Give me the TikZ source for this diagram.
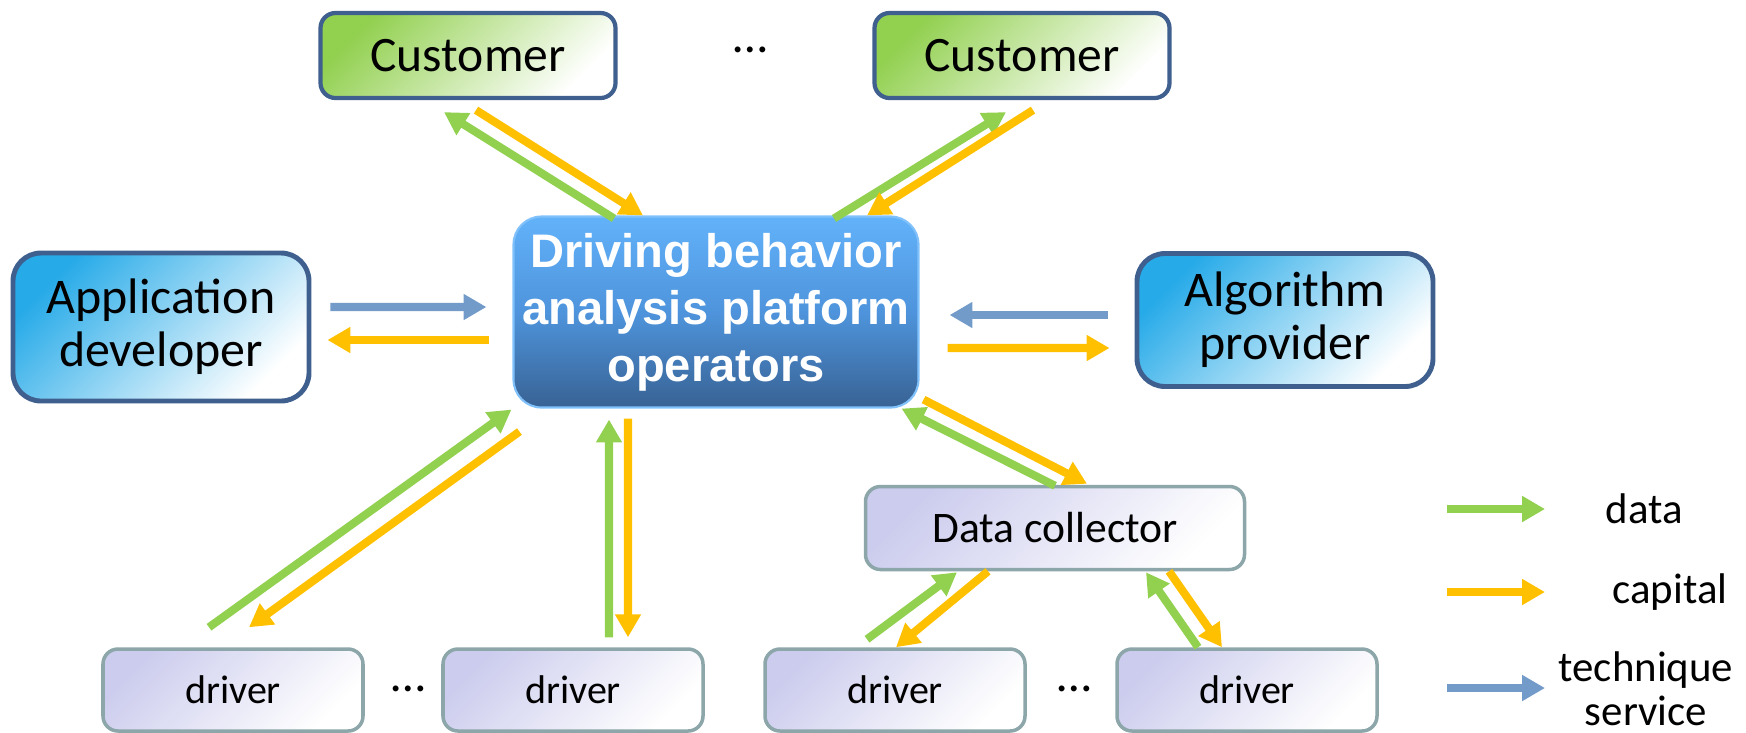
\documentclass[tikz,border=0pt]{standalone}
\usepackage{fontspec}
\setmainfont{Carlito}
\newfontfamily\platfont{Liberation Sans}
\usetikzlibrary{shapes.geometric, arrows.meta}

\definecolor{framebl}{RGB}{63,96,142}
\definecolor{custgreen}{RGB}{146,208,80}
\definecolor{provblue}{RGB}{38,170,232}
\definecolor{plattop}{RGB}{98,178,250}
\definecolor{platmid}{RGB}{78,148,220}
\definecolor{platbot}{RGB}{56,98,148}
\definecolor{drvfill}{RGB}{204,204,238}
\definecolor{drvframe}{RGB}{140,166,170}
\definecolor{datagreen}{RGB}{146,208,80}
\definecolor{caporange}{RGB}{255,192,0}
\definecolor{techblue}{RGB}{114,155,202}

\tikzstyle{customer} = [rectangle, rounded corners=0.15cm,
minimum width=2.95cm,
minimum height=0.85cm,
align=center,
draw=framebl, line width=1.2pt,
top color=custgreen, bottom color=white, shading angle=45,
font=\fontsize{14.1}{16}\selectfont]
\tikzstyle{provider} = [rectangle, rounded corners=0.28cm,
minimum width=2.96cm,
minimum height=1.33cm,
align=center,
draw=framebl, line width=1.4pt,
top color=provblue, bottom color=white, shading angle=45,
font=\fontsize{14.2}{15}\selectfont]
\tikzstyle{platform} = [rectangle, rounded corners=0.28cm,
minimum width=4.05cm,
minimum height=1.91cm,
inner sep=1pt,
align=center,
draw=plattop!80!white, line width=0.6pt,
top color=plattop, bottom color=platbot, middle color=platmid,
text=white,
font=\platfont\bfseries\fontsize{13.4}{16.2}\selectfont]
\tikzstyle{driver} = [rectangle, rounded corners=0.15cm,
minimum width=2.6cm,
minimum height=0.82cm,
align=center,
draw=drvframe, line width=1pt,
top color=drvfill, bottom color=white, shading angle=45,
font=\fontsize{11.4}{13}\selectfont]
\tikzstyle{collector} = [driver,
minimum width=3.79cm,
minimum height=0.83cm,
font=\fontsize{12.4}{15}\selectfont]
\tikzstyle{ellip} = [inner sep=1pt, font=\fontsize{14}{16}\selectfont]
\tikzstyle{legend} = [inner sep=1pt, align=center, font=\fontsize{12.2}{12.6}\selectfont]
\tikzstyle{dataflow} = [line width=2.3pt, draw=datagreen, -{Triangle[length=6.5pt,width=7pt]}]
\tikzstyle{capitalflow} = [line width=2.3pt, draw=caporange, -{Triangle[length=6.5pt,width=7pt]}]
\tikzstyle{techflow} = [line width=2.3pt, draw=techblue, -{Triangle[length=6.5pt,width=7pt]}]

\begin{document}
\begin{tikzpicture}[node distance=2.565cm]
\useasboundingbox (0,0) rectangle (17.46,-7.32);

\node (plat) [platform] at (7.16,-3.12) {Driving behavior\\analysis platform\\operators};
\node (cust1) [customer, above of=plat, xshift=-2.48cm] {Customer};
\node (topdots) [ellip, right of=cust1, xshift=0.255cm, yshift=0.055cm] {…};
\node (cust2) [customer, right of=cust1, xshift=2.975cm] {Customer};
\node (appdev) [provider, left of=plat, xshift=-2.985cm, yshift=-0.15cm, minimum height=1.48cm] {Application\\developer};
\node (algo) [provider, right of=plat, xshift=3.125cm, yshift=-0.08cm] {Algorithm\\provider};
\node (coll) [collector, below of=plat, xshift=3.39cm, yshift=0.405cm] {Data collector};
\node (drv1) [driver, below of=plat, xshift=-4.83cm, yshift=-1.215cm] {driver};
\node (botdots1) [ellip, right of=drv1, xshift=-0.815cm, yshift=0.01cm] {…};
\node (drv2) [driver, right of=drv1, xshift=0.835cm] {driver};
\node (drv3) [driver, right of=drv2, xshift=0.655cm] {driver};
\node (botdots2) [ellip, right of=drv3, xshift=-0.775cm, yshift=0.01cm] {…};
\node (drv4) [driver, right of=drv3, xshift=0.955cm] {driver};

% legend
\node (ldata) [legend] at (16.44,-5.09) {data};
\node (lcap) [legend] at (16.70,-5.92) {capital};
\node (ltech) [legend] at (16.46,-6.89) {technique\\service};

% customers
\draw [dataflow] ([shift={(-1.02,-0.03)}]plat.north) -- ([shift={(-0.24,-0.12)}]cust1.south);
\draw [capitalflow] ([shift={(0.08,-0.10)}]cust1.south) -- ([shift={(-0.73,0)}]plat.north);
\draw [dataflow] ([shift={(1.18,-0.03)}]plat.north) -- ([shift={(-0.16,-0.12)}]cust2.south);
\draw [capitalflow] ([shift={(0.11,-0.10)}]cust2.south) -- ([shift={(1.51,0)}]plat.north);

% developer and provider
\draw [techflow] ([shift={(0.19,0.20)}]appdev.east) -- ([shift={(-0.26,0.05)}]plat.west);
\draw [capitalflow] ([shift={(-0.23,-0.28)}]plat.west) -- ([shift={(0.16,-0.13)}]appdev.east);
\draw [techflow] ([shift={(-0.27,0.05)}]algo.west) -- ([shift={(0.30,-0.03)}]plat.east);
\draw [capitalflow] ([shift={(0.28,-0.36)}]plat.east) -- ([shift={(-0.25,-0.28)}]algo.west);

% drivers
\draw [dataflow] ([shift={(-0.24,0.20)}]drv1.north) -- ([shift={(-0.01,-0.01)}]plat.south west);
\draw [capitalflow] ([shift={(0.07,-0.23)}]plat.south west) -- ([shift={(0.16,0.20)}]drv1.north);
\draw [dataflow] ([shift={(0.36,0.10)}]drv2.north) -- ([shift={(-1.07,-0.11)}]plat.south);
\draw [capitalflow] ([shift={(-0.88,-0.10)}]plat.south) -- ([shift={(0.55,0.10)}]drv2.north);

% data collector
\draw [dataflow] ([shift={(0,-0.01)}]coll.north) -- ([shift={(-0.18,0)}]plat.south east);
\draw [capitalflow] ([shift={(0.04,0.09)}]plat.south east) -- ([shift={(0.32,0.01)}]coll.north);
\draw [dataflow] ([shift={(-0.28,0.08)}]drv3.north) -- ([shift={(-0.98,-0.01)}]coll.south);
\draw [capitalflow] ([shift={(-0.67,0)}]coll.south) -- ([shift={(0.01,0)}]drv3.north);
\draw [dataflow] ([shift={(-0.49,0)}]drv4.north) -- ([shift={(0.91,-0.01)}]coll.south);
\draw [capitalflow] ([shift={(1.14,0)}]coll.south) -- ([shift={(-0.25,0)}]drv4.north);

% legend arrows
\draw [dataflow] ([shift={(-1.97,0)}]ldata.center) -- ([shift={(-0.99,0)}]ldata.center);
\draw [capitalflow] ([shift={(-2.23,0)}]lcap.center) -- ([shift={(-1.25,0)}]lcap.center);
\draw [techflow] ([shift={(-1.99,0.01)}]ltech.center) -- ([shift={(-1.01,0.01)}]ltech.center);

\end{tikzpicture}
\end{document}
